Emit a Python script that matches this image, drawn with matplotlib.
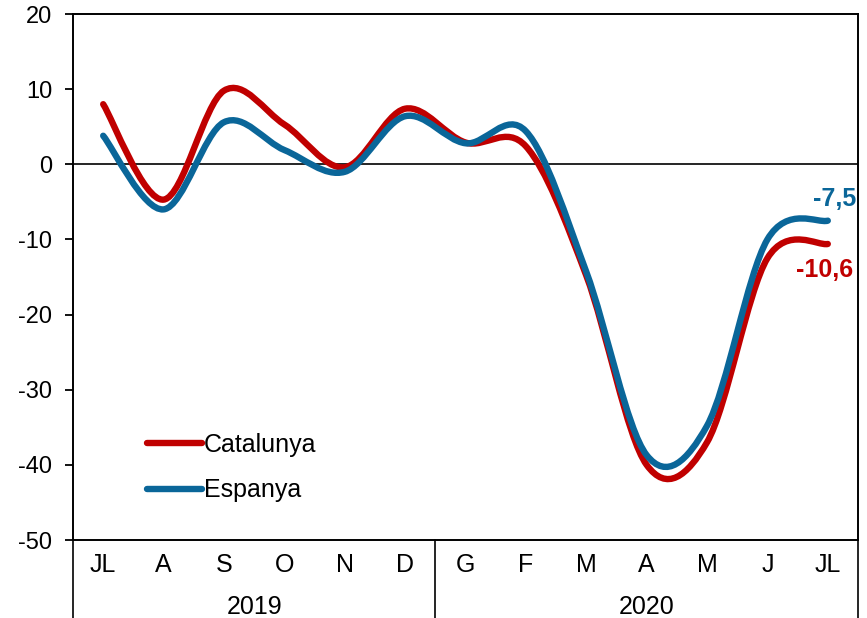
import matplotlib
matplotlib.use("Agg")
import matplotlib.pyplot as plt
import matplotlib.transforms as mtransforms
from matplotlib.path import Path
from matplotlib.patches import PathPatch
from matplotlib.lines import Line2D

plt.rcParams['font.family'] = ['Liberation Sans', 'DejaVu Sans']
plt.rcParams['axes.unicode_minus'] = False

months = ["JL", "A", "S", "O", "N", "D", "G", "F", "M", "A", "M", "J", "JL"]
years = ["2019", "2020"]
catalunya = [8.0, -4.7, 9.8, 5.3, -0.4, 7.4, 2.9, 2.4, -14.8, -40.0, -37.0, -12.5, -10.6]
espanya = [3.8, -6.0, 5.6, 1.9, -1.0, 6.4, 2.8, 4.4, -14.3, -38.7, -34.8, -10.0, -7.5]

red = '#C00000'
blue = '#0A6699'


def smooth_path(xs, ys):
    # Excel style smoothed line: cubic bezier through each point
    pts = list(zip(xs, ys))
    n = len(pts)
    verts = [pts[0]]
    codes = [Path.MOVETO]
    for i in range(n - 1):
        p0 = pts[i - 1] if i > 0 else pts[i]
        p1 = pts[i]
        p2 = pts[i + 1]
        p3 = pts[i + 2] if i + 2 < n else pts[i + 1]
        c1 = (p1[0] + (p2[0] - p0[0]) / 6, p1[1] + (p2[1] - p0[1]) / 6)
        c2 = (p2[0] - (p3[0] - p1[0]) / 6, p2[1] - (p3[1] - p1[1]) / 6)
        verts += [c1, c2, p2]
        codes += [Path.CURVE4] * 3
    return Path(verts, codes)


fig = plt.figure(figsize=(8.67, 6.18), dpi=100)
ax = fig.add_axes([0.0842, 0.1262, 0.9054, 0.8511])

x = list(range(len(months)))
ax.axhline(0, color='black', lw=1.2, zorder=1)
for vals, color in [(catalunya, red), (espanya, blue)]:
    ax.add_patch(PathPatch(smooth_path(x, vals), facecolor='none', edgecolor=color,
                           lw=4.6, capstyle='round', joinstyle='round', zorder=3))

ax.set_xlim(-0.5, 12.5)
ax.set_ylim(-50, 20)
ax.set_yticks(range(-50, 21, 10))
ax.tick_params(axis='y', direction='out', length=6, width=1.3, labelsize=17, pad=9)
ax.set_xticks(x)
ax.set_xticklabels(months)
ax.tick_params(axis='x', length=0, labelsize=18, pad=9)
for s in ax.spines.values():
    s.set_linewidth(1.4)

# year labels and separators below the axis
trans = mtransforms.blended_transform_factory(ax.transData, ax.transAxes)
for xv in [-0.5, 5.5, 12.5]:
    ax.plot([xv, xv], [0, -0.15], transform=trans, color='black', lw=1.2, clip_on=False)
ax.text(2.5, -0.1265, years[0], transform=trans, ha='center', va='center', fontsize=18)
ax.text(9.0, -0.1265, years[1], transform=trans, ha='center', va='center', fontsize=18)

# end labels
ax.text(12.47, -4.6, "-7,5", color=blue, fontsize=18, fontweight='bold', ha='right', va='center')
ax.text(12.42, -14.1, "-10,6", color=red, fontsize=18, fontweight='bold', ha='right', va='center')

handles = [Line2D([0], [0], color=red, lw=4.6, solid_capstyle='round'),
           Line2D([0], [0], color=blue, lw=4.6, solid_capstyle='round')]
ax.legend(handles, ["Catalunya", "Espanya"], loc='upper left', bbox_to_anchor=(0.065, 0.246),
          frameon=False, fontsize=18, handlelength=2.2, handletextpad=0.1, labelspacing=0.85)

fig.savefig("out.png", dpi=100)
